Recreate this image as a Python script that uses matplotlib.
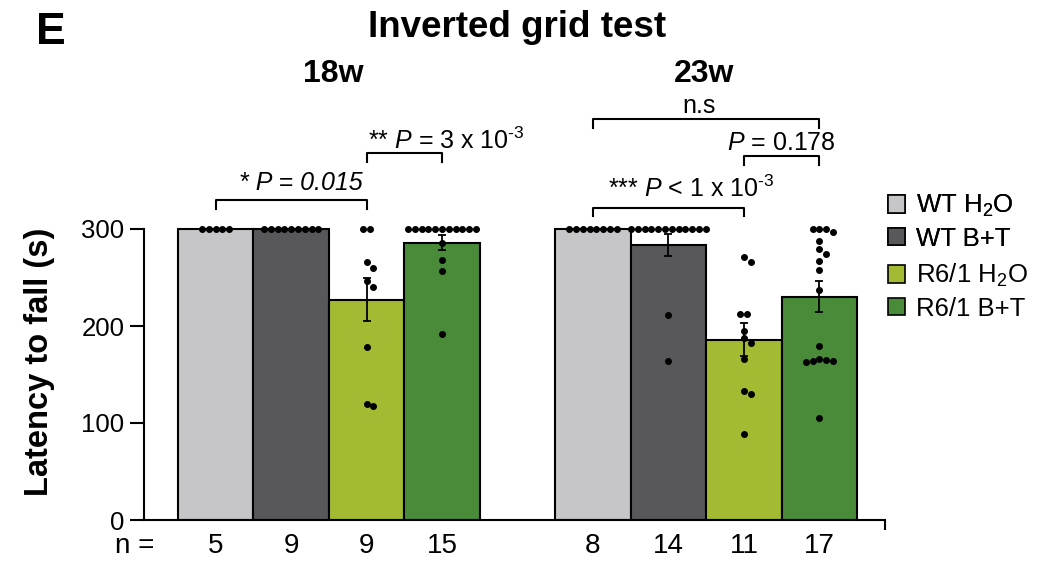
import numpy as np
import matplotlib
matplotlib.use('Agg')
import matplotlib.pyplot as plt
from matplotlib.patches import Patch

plt.rcParams['font.family'] = ['Liberation Sans', 'DejaVu Sans']
plt.rcParams['mathtext.fontset'] = 'custom'
plt.rcParams['mathtext.rm'] = 'Liberation Sans'
plt.rcParams['mathtext.it'] = 'Liberation Sans:italic'
plt.rcParams['mathtext.bf'] = 'Liberation Sans:bold'

# Daten
groups = ['WT H$_2$O', 'WT B+T', 'R6/1 H$_2$O', 'R6/1 B+T']
colors = ['#c6c6c8', '#58585a', '#a2bb32', '#4a8b39']
ages = ['18w', '23w']
positions = [0, 1, 2, 3, 5, 6, 7, 8]

means = [300, 300, 227, 286, 299.5, 283.5, 186, 230]
sems = [0, 0, 22, 7.5, 0.5, 11, 17, 16]
n_vals = [5, 9, 9, 15, 8, 14, 11, 17]

dots = [
    [300] * 5,
    [300] * 9,
    [300, 300, 266, 260, 246, 240, 178, 120, 118],
    [300] * 11 + [286, 268, 257, 192],
    [300] * 8,
    [300] * 12 + [211, 164],
    [271, 266, 212, 212, 195, 188, 182, 166, 133, 130, 89],
    [300, 300, 300, 297, 288, 279, 274, 267, 258, 237, 179, 166, 165, 164, 164, 163, 105],
]

# Signifikanz: (bar i, bar j, hoehe, text, text_x, text_y, kursiv)
brackets = [
    (0, 2, 330, '* P = 0.015', 1.13, 340, True),
    (2, 3, 378, r'** $P$ = 3 x 10$^{\text{-}3}$', 3.06, 382, False),
    (4, 7, 413, 'n.s', 6.40, 420, False),
    (6, 7, 375, '$P$ = 0.178', 7.49, 381, False),
    (4, 6, 322, r'*** $P$ < 1 x 10$^{\text{-}3}$', 6.30, 333, False),
]

PX_X = 75.4   # pixel pro x-einheit
PX_Y = 0.97   # pixel pro y-einheit
DOT_D = 6.8   # punktabstand in pixel


def swarm(vals):
    placed = []
    offs = []
    cand = [0]
    for i in range(1, 30):
        cand += [i, -i]
    for v in vals:
        for k in cand:
            x = k * DOT_D / PX_X
            ok = True
            for px, pv in placed:
                if ((x - px) * PX_X) ** 2 + ((v - pv) * PX_Y) ** 2 < (DOT_D * 0.95) ** 2:
                    ok = False
                    break
            if ok:
                break
        placed.append((x, v))
        offs.append(x)
    # Reihen mit gleichem Wert zentrieren
    offs = np.array(offs)
    vals = np.array(vals, dtype=float)
    for v in np.unique(vals):
        m = vals == v
        if m.sum() > 1 and np.all(np.abs(vals[~m] - v) * PX_Y > DOT_D):
            offs[m] -= offs[m].mean()
    return offs


fig = plt.figure(figsize=(10.56, 5.62), dpi=100)
ax = fig.add_axes([144 / 1056, 42 / 562, 741 / 1056, 465.6 / 562])

for i, pos in enumerate(positions):
    c = colors[i % 4]
    ax.bar(pos, means[i], width=1.0, color=c, edgecolor='black', linewidth=1.5, zorder=2)
    ax.errorbar(pos, means[i], yerr=sems[i], color='black', capsize=3, elinewidth=1.3,
                capthick=1.3, zorder=3, fmt='none')
    offs = swarm(dots[i])
    ax.plot(pos + offs, dots[i], 'o', color='black', markersize=4, zorder=4,
            clip_on=False)
    ax.text(pos, -34, str(n_vals[i]), ha='center', va='baseline', fontsize=20)

ax.text(-1.08, -34, 'n =', ha='center', va='baseline', fontsize=20)

for i, j, h, txt, tx, ty, it in brackets:
    x1, x2 = positions[i], positions[j]
    ax.plot([x1, x1, x2, x2], [h - 9, h, h, h - 9], color='black', lw=1.5, clip_on=False)
    ax.text(tx, ty, txt, ha='center', va='baseline', fontsize=18,
            style='italic' if it else 'normal')

ax.set_xlim(-0.95, 8.87)
ax.set_ylim(0, 480)
ax.spines['top'].set_visible(False)
ax.spines['right'].set_visible(False)
ax.spines['left'].set_bounds(0, 300)
ax.spines['left'].set_linewidth(1.5)
ax.spines['bottom'].set_linewidth(1.5)
ax.set_yticks([0, 100, 200, 300])
ax.tick_params(axis='y', length=10, width=1.5, labelsize=18.5, pad=4)
ax.set_xticks([8.87])
ax.set_xticklabels([''])
ax.tick_params(axis='x', length=7, width=1.5)

ax.set_ylabel('Latency to fall (s)', fontsize=23.5, fontweight='bold')
ax.yaxis.set_label_coords(-0.12, 0.34)

fig.text(36 / 1056, 1 - 44 / 562, 'E', fontsize=32, fontweight='bold', va='baseline')
fig.text(517 / 1056, 1 - 37 / 562, 'Inverted grid test', fontsize=26.5, fontweight='bold',
         ha='center', va='baseline')
fig.text(333 / 1056, 1 - 82 / 562, ages[0], fontsize=23, fontweight='bold', ha='center', va='baseline')
fig.text(704 / 1056, 1 - 82 / 562, ages[1], fontsize=23, fontweight='bold', ha='center', va='baseline')

handles = [Patch(facecolor=c, edgecolor='black', linewidth=1.2) for c in colors]
leg_kw = dict(loc='upper left', frameon=False, fontsize=18.5, handlelength=0.65,
              handleheight=0.65, handletextpad=0.45, labelspacing=0.3, borderpad=0,
              borderaxespad=0)
leg1 = fig.legend(handles[:2], groups[:2], bbox_to_anchor=(888 / 1056, 1 - 193 / 562), **leg_kw)
fig.add_artist(leg1)
fig.legend(handles[2:], groups[2:], bbox_to_anchor=(888 / 1056, 1 - 262 / 562), **leg_kw)

fig.savefig('out.png', dpi=100)
